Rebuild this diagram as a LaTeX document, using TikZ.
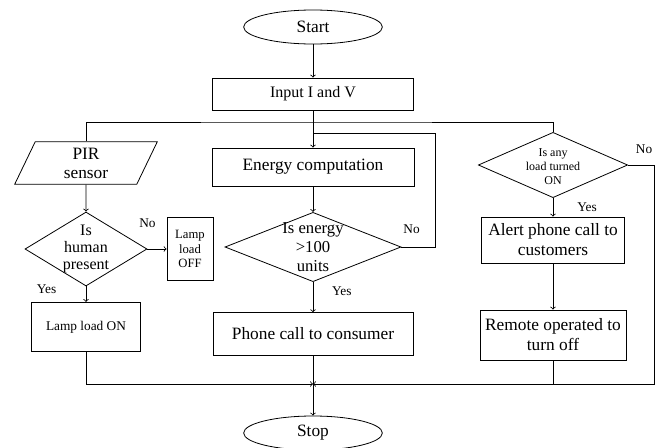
\documentclass[tikz,border=0pt]{standalone}
\usepackage{fontspec}
\setmainfont{Liberation Serif}
\usetikzlibrary{shapes.geometric,positioning}

\begin{document}
\begin{tikzpicture} [node distance=2cm,on grid,auto,line width=0.6pt,
    terminal/.style={ellipse,draw,minimum width=104pt,minimum height=25.5pt,inner sep=0pt,font=\fontsize{13}{15}\selectfont},
    process/.style={rectangle,draw,align=center,inner sep=1pt},
    decision/.style={diamond,draw,inner sep=0pt},
    dtext/.style={align=center,inner sep=0pt},
    io/.style={trapezium,trapezium left angle=56,trapezium right angle=124,trapezium stretches body,draw,align=center,inner sep=0pt},
    lbl/.style={font=\fontsize{10}{12}\selectfont,inner sep=0pt}]
    \useasboundingbox (-234.75pt,20.25pt) rectangle (259.5pt,-315pt);

    % main column
    \node[terminal] (start) at (0,0) {Start};
    \node[process, minimum width=151pt, minimum height=24pt, font=\fontsize{12}{14}\selectfont] (input) [below=50.25pt of start] {Input I and V};
    \node[process, minimum width=151.5pt, minimum height=28.5pt, font=\fontsize{13}{15}\selectfont] (energy) [below=54.75pt of input] {Energy computation};
    \node[decision, minimum width=132pt, minimum height=52pt] (energyq) [below=60pt of energy] {};
    \node[dtext, font=\fontsize{12.5}{14.25}\selectfont] (energyq-t) at (energyq) {Is energy\\>100\\units};
    \node[process, minimum width=150pt, minimum height=32pt, font=\fontsize{13}{15}\selectfont] (phone) [below=65.25pt of energyq] {Phone call to consumer};
    \node[terminal] (stop) [below=74.25pt of phone] {Stop};

    % left column
    \node[io, minimum width=107pt, minimum height=32pt, font=\fontsize{13}{14.25}\selectfont] (pir) [above left=3pt and 170.25pt of energy] {PIR\\sensor};
    \node[decision, minimum width=91.5pt, minimum height=55.5pt] (humanq) [below=64.5pt of pir] {};
    \node[dtext, font=\fontsize{12}{13}\selectfont] (humanq-t) at (humanq) {Is\\human\\present};
    \node[process, minimum width=34.5pt, minimum height=47pt, font=\fontsize{9.5}{11}\selectfont] (lampoff) [right=78pt of humanq] {Lamp\\load\\OFF};
    \node[process, minimum width=82pt, minimum height=37pt, font=\fontsize{10}{12}\selectfont] (lampon) [below=58.5pt of humanq] {Lamp load ON};

    % right column
    \node[decision, minimum width=112pt, minimum height=49pt] (loadq) [above right=1.5pt and 180pt of energy] {};
    \node[dtext, font=\fontsize{9}{10.5}\selectfont] (loadq-t) [below=1.5pt of loadq] {Is any\\load turned\\ON};
    \node[process, minimum width=107pt, minimum height=34.5pt, font=\fontsize{13}{15}\selectfont] (alert) [below=56.25pt of loadq] {Alert phone call to\\customers};
    \node[process, minimum width=109.5pt, minimum height=37.5pt, font=\fontsize{13}{15}\selectfont] (remote) [below=71.25pt of alert] {Remote operated to\\turn off};

    \coordinate[below=21pt of input] (bus);
    \coordinate[below=8.25pt of bus] (loop);
    \coordinate[below=37.5pt of phone] (join);

    \draw[->] (start) -- (input);
    \draw[->] (input) -- (energy);
    \draw (pir.north) |- (bus) -| (loadq.north);
    \draw[->] (energy) -- (energyq);
    \draw (energyq.east) -- node[lbl, pos=0.3, above=10pt] {No} ++(25.5pt,0) |- (loop);
    \draw[->] (energyq.south) -- node[lbl, pos=0.3, right=14pt] {Yes} (phone.north);
    \draw[->] (phone) -- (stop);

    \draw[->] (pir) -- (humanq);
    \draw[->] (humanq.east) -- node[lbl, pos=0, above=16pt] {No} (lampoff.west);
    \draw[->] (humanq.south) -- node[lbl, pos=0.2, left=22pt] {Yes} (lampon.north);
    \draw[->] (lampon.south) |- (join);

    \draw[->] (loadq.south) -- node[lbl, pos=0.5, right=18pt] {Yes} (alert.north);
    \draw[->] (alert) -- (remote);
    \draw (remote.south) -- (remote.south |- join);
    \draw[->] (loadq.east) -- node[lbl, pos=0.6, above=8pt] {No} ++(20pt,0) |- (join);
\end{tikzpicture}
\end{document}
